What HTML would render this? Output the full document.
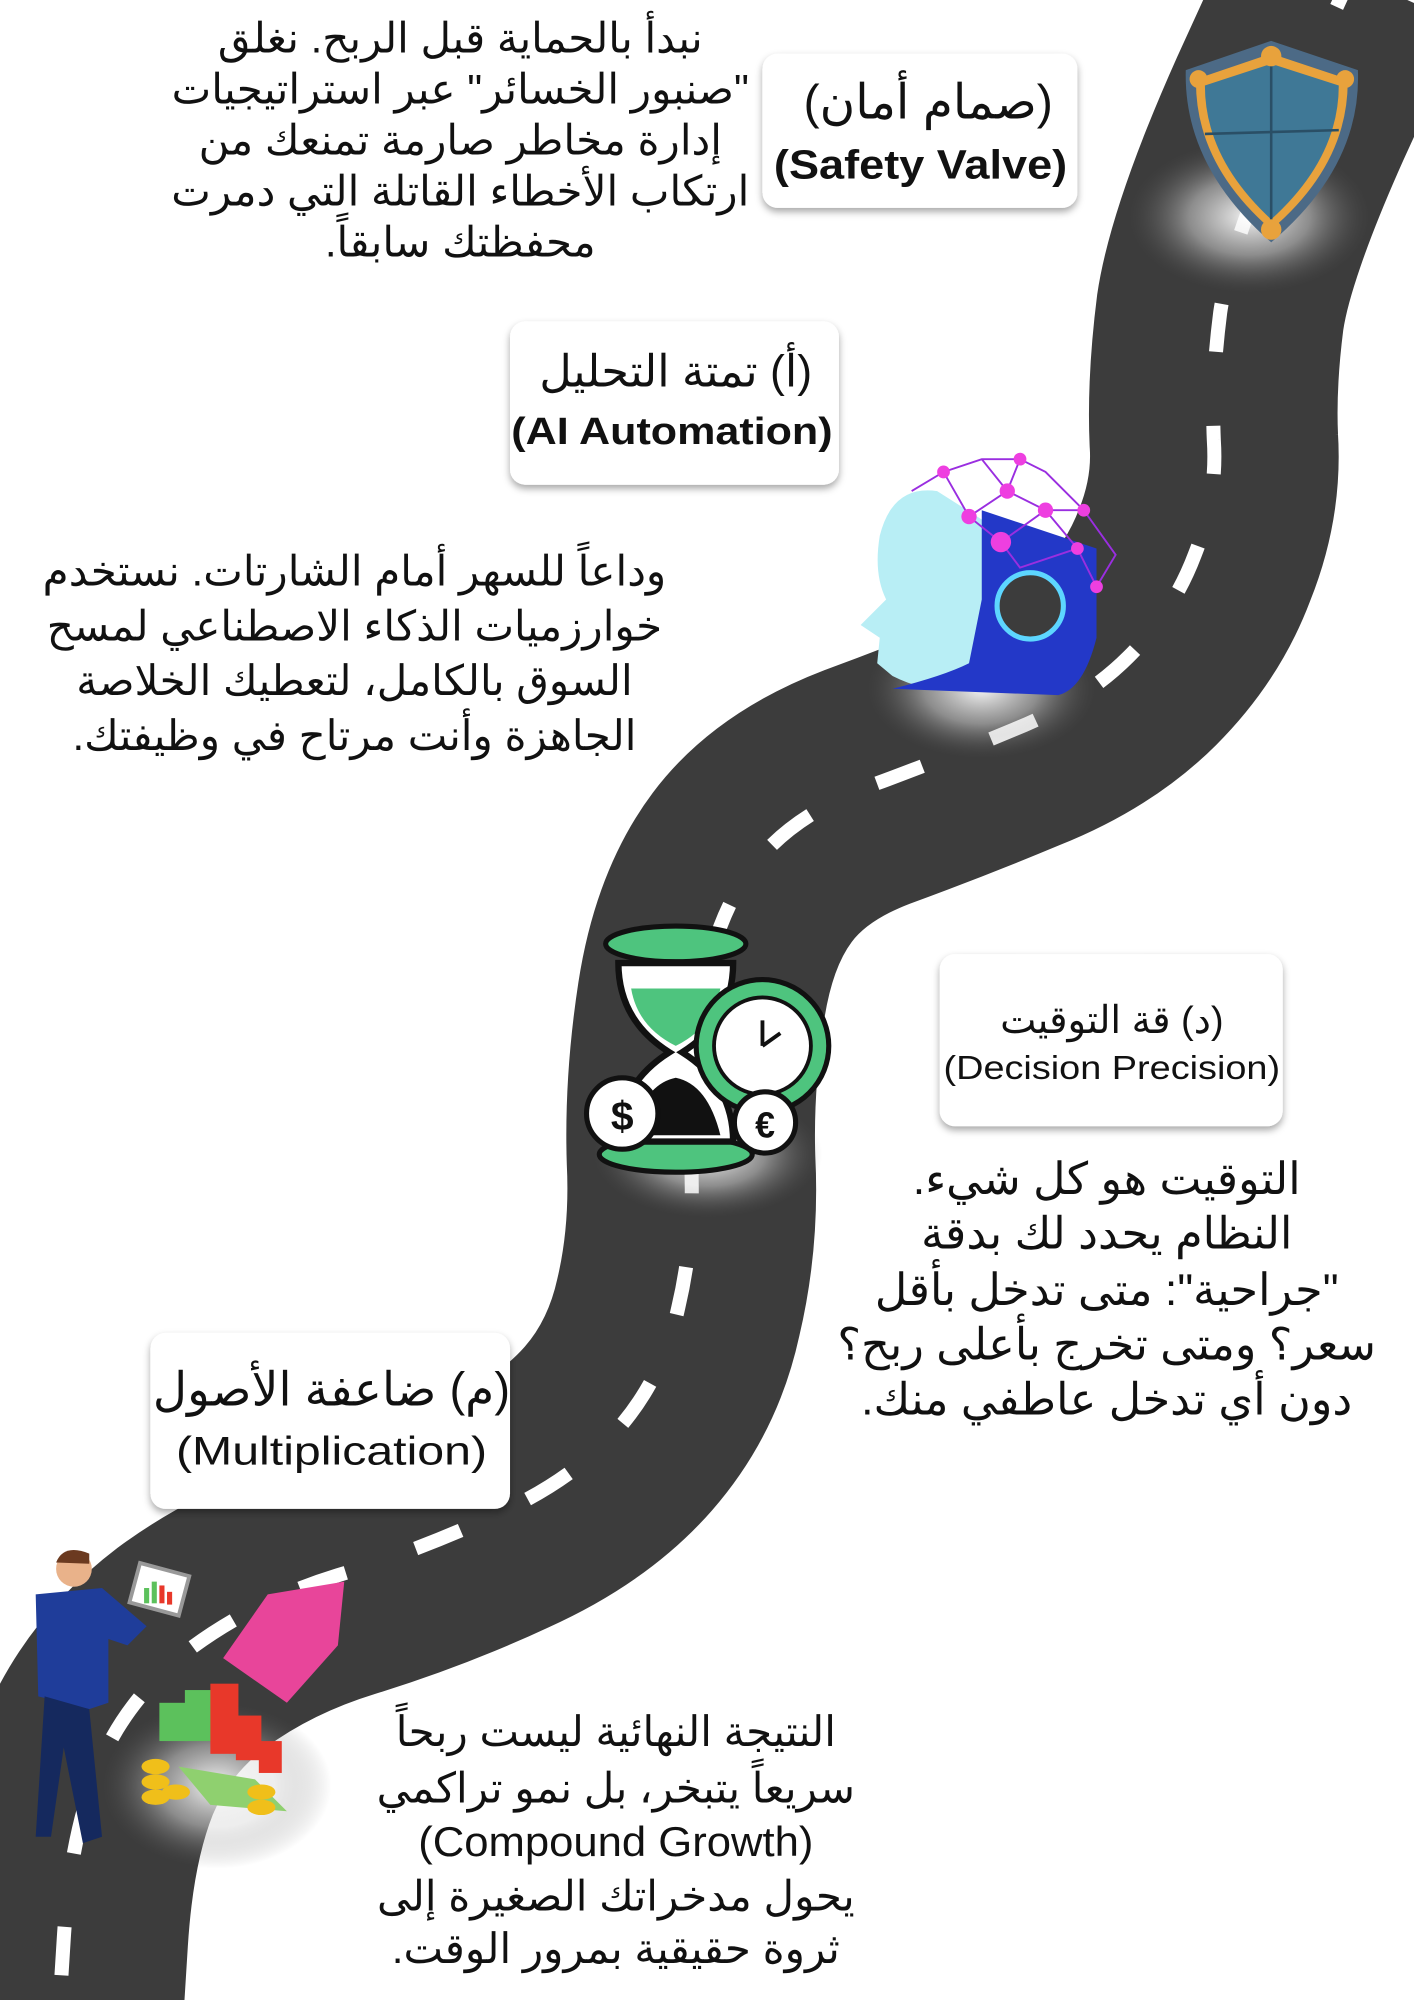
<!DOCTYPE html>
<html><head><meta charset="utf-8"><style>
html,body{margin:0;padding:0;background:#fff;}
svg{display:block;}
text{font-family:"Liberation Sans","Noto Sans CJK SC",sans-serif;fill:#111;}
</style></head><body>
<svg width="1414" height="2000" viewBox="0 0 1109 1568" preserveAspectRatio="none" xmlns="http://www.w3.org/2000/svg">
<defs>
<radialGradient id="glow"><stop offset="0" stop-color="#fff" stop-opacity="0.95"/><stop offset="0.5" stop-color="#ddd" stop-opacity="0.5"/><stop offset="1" stop-color="#555" stop-opacity="0"/></radialGradient>
<filter id="sh" x="-10%" y="-10%" width="120%" height="130%"><feDropShadow dx="0" dy="3" stdDeviation="3" flood-color="#000" flood-opacity="0.35"/></filter>
</defs>
<rect width="1109" height="1568" fill="#fff"/>
<path d="M 1060 -20 L 1012 85 Q 965 190 957 245 Q 950 300 952 345 Q 955 390 937 435 Q 920 480 885 515 Q 850 550 795 572 Q 740 595 680 617 Q 620 640 590 680 Q 560 720 550 785 Q 540 850 542 910 Q 545 970 532 1025 Q 520 1080 485 1120 Q 450 1160 390 1187 Q 330 1215 265 1235 Q 200 1255 150 1292 Q 100 1330 77 1385 Q 55 1440 50 1520 L 45 1600" fill="none" stroke="#3c3c3c" stroke-width="195" stroke-linejoin="round"/>
<path d="M 1060 -20 L 1012 85 Q 965 190 957 245 Q 950 300 952 345 Q 955 390 937 435 Q 920 480 885 515 Q 850 550 795 572 Q 740 595 680 617 Q 620 640 590 680 Q 560 720 550 785 Q 540 850 542 910 Q 545 970 532 1025 Q 520 1080 485 1120 Q 450 1160 390 1187 Q 330 1215 265 1235 Q 200 1255 150 1292 Q 100 1330 77 1385 Q 55 1440 50 1520 L 45 1600" fill="none" stroke="#fff" stroke-width="11" stroke-dasharray="38 58" stroke-dashoffset="10"/>

<ellipse cx="980" cy="170" rx="95" ry="60" fill="url(#glow)"/>
<ellipse cx="770" cy="540" rx="90" ry="55" fill="url(#glow)"/>
<ellipse cx="555" cy="905" rx="90" ry="50" fill="url(#glow)"/>
<ellipse cx="170" cy="1400" rx="90" ry="65" fill="url(#glow)"/>

<g>
<path d="M997 32 L1065 55 Q1068 130 997 190 Q928 130 930 55 Z" fill="#4c6a86"/>
<path d="M997 42 L1057 62 Q1058 128 997 180 Q937 128 938 62 Z" fill="#e8a23c"/>
<path d="M997 50 L1050 67 Q1050 124 997 172 Q945 124 945 67 Z" fill="#3f7896"/>
<line x1="997" y1="50" x2="997" y2="172" stroke="#2a4f66" stroke-width="2"/>
<line x1="945" y1="105" x2="1050" y2="102" stroke="#2a4f66" stroke-width="2"/>
<circle cx="997" cy="44" r="8" fill="#e8a23c"/><circle cx="940" cy="62" r="7" fill="#e8a23c"/><circle cx="1055" cy="62" r="7" fill="#e8a23c"/><circle cx="997" cy="180" r="8" fill="#e8a23c"/>
</g>

<g>
<path d="M735 385 Q700 380 690 420 Q685 450 695 470 L675 490 L690 500 L688 520 L700 530 Q730 545 760 540 L785 500 L790 420 Z" fill="#b8eef5"/>
<path d="M770 400 L860 430 L860 500 Q850 540 830 545 L700 540 Q740 530 760 520 L770 470 Z" fill="#2338c8"/>
<circle cx="808" cy="475" r="26" fill="#3c3c3c" stroke="#5dd6ff" stroke-width="4"/>
<g stroke="#9a2ee0" stroke-width="1.5" fill="none">
<path d="M715 385 L740 370 L770 360 L800 360 L820 370 L850 400 L875 435 L860 460 M740 370 L760 405 L785 425 L820 400 L850 400 M770 360 L790 385 L760 405 M800 360 L790 385 L820 400 L845 430 L860 460 M785 425 L800 445 L845 430"/>
</g>
<g fill="#ee3fe0"><circle cx="740" cy="370" r="5"/><circle cx="800" cy="360" r="5"/><circle cx="790" cy="385" r="6"/><circle cx="760" cy="405" r="6"/><circle cx="820" cy="400" r="6"/><circle cx="785" cy="425" r="8"/><circle cx="845" cy="430" r="5"/><circle cx="860" cy="460" r="5"/><circle cx="850" cy="400" r="5"/></g>
</g>

<g>
<ellipse cx="530" cy="740" rx="55" ry="14" fill="#4ec47e" stroke="#111" stroke-width="4"/>
<ellipse cx="530" cy="905" rx="60" ry="14" fill="#4ec47e" stroke="#111" stroke-width="4"/>
<path d="M485 755 Q485 800 525 825 Q485 850 485 895 L575 895 Q575 850 535 825 Q575 800 575 755 Z" fill="#fff" stroke="#111" stroke-width="5"/>
<path d="M495 775 L565 775 Q560 805 530 820 Q500 805 495 775 Z" fill="#4ec47e"/>
<path d="M495 890 Q505 850 530 845 Q555 850 565 890 Z" fill="#111"/>
<circle cx="598" cy="820" r="52" fill="#4ec47e" stroke="#111" stroke-width="4"/>
<circle cx="598" cy="820" r="38" fill="#fff" stroke="#111" stroke-width="3"/>
<path d="M598 820 L598 800 M598 820 L612 810" stroke="#111" stroke-width="3"/>
<circle cx="488" cy="873" r="28" fill="#fff" stroke="#111" stroke-width="4"/><text x="488" y="886" font-size="32" text-anchor="middle" font-weight="bold">$</text>
<circle cx="600" cy="880" r="24" fill="#fff" stroke="#111" stroke-width="4"/><text x="600" y="892" font-size="28" text-anchor="middle" font-weight="bold">€</text>
</g>

<g>
<path d="M175 1300 L210 1250 L270 1240 L265 1290 L225 1335 Z" fill="#e8459a"/>
<rect x="125" y="1335" width="22" height="30" fill="#5cc15c"/><rect x="145" y="1325" width="22" height="40" fill="#5cc15c"/>
<rect x="165" y="1320" width="22" height="55" fill="#e8382a"/><rect x="185" y="1345" width="20" height="35" fill="#e8382a"/><rect x="203" y="1365" width="18" height="25" fill="#e8382a"/>
<path d="M140 1385 L200 1395 L225 1420 L165 1415 Z" fill="#8fd06f"/>
<g fill="#f0bf1a"><ellipse cx="122" cy="1385" rx="11" ry="6"/><ellipse cx="122" cy="1397" rx="11" ry="6"/><ellipse cx="122" cy="1409" rx="11" ry="6"/><ellipse cx="138" cy="1405" rx="11" ry="6"/><ellipse cx="205" cy="1405" rx="11" ry="6"/><ellipse cx="205" cy="1417" rx="11" ry="6"/></g>
<circle cx="58" cy="1230" r="14" fill="#e9b28a"/><path d="M44 1225 Q50 1210 70 1218 L70 1226 Z" fill="#6b3a20"/>
<path d="M28 1250 L80 1245 L115 1275 L100 1290 L85 1285 L85 1335 L70 1340 L30 1330 Z" fill="#1f3d9a"/>
<path d="M35 1330 L70 1340 L80 1440 L65 1445 L50 1370 L40 1440 L28 1440 Z" fill="#15295e"/>
<rect x="105" y="1230" width="40" height="32" fill="#fff" stroke="#999" stroke-width="3" transform="rotate(15 125 1246)"/>
<rect x="113" y="1245" width="4" height="12" fill="#5cc15c"/><rect x="119" y="1240" width="4" height="17" fill="#5cc15c"/><rect x="125" y="1243" width="4" height="14" fill="#e8382a"/><rect x="131" y="1248" width="4" height="10" fill="#e8382a"/>
</g>

<g filter="url(#sh)" fill="#fff">
<rect x="598" y="42" width="247" height="121" rx="12"/>
<rect x="400" y="252" width="258" height="128" rx="12"/>
<rect x="737" y="748" width="269" height="135" rx="12"/>
<rect x="118" y="1045" width="282" height="138" rx="12"/>
</g>
<text x="728" y="93" font-size="38" text-anchor="middle" direction="rtl">(صمام أمان)</text>
<text x="722" y="140" font-size="32" text-anchor="middle" font-weight="bold" textLength="230" lengthAdjust="spacingAndGlyphs">(Safety Valve)</text>
<text x="530" y="303" font-size="35" text-anchor="middle" direction="rtl">(أ) تمتة التحليل</text>
<text x="527" y="348" font-size="30" text-anchor="middle" font-weight="bold" textLength="252" lengthAdjust="spacingAndGlyphs">(AI Automation)</text>
<text x="872" y="810" font-size="30" text-anchor="middle" direction="rtl">(د) قة التوقيت</text>
<text x="872" y="846" font-size="26" text-anchor="middle" textLength="264" lengthAdjust="spacingAndGlyphs">(Decision Precision)</text>
<text x="260" y="1102" font-size="37" text-anchor="middle" direction="rtl">(م) ضاعفة الأصول</text>
<text x="260" y="1148" font-size="31" text-anchor="middle" textLength="244" lengthAdjust="spacingAndGlyphs">(Multiplication)</text>

<g font-size="33" text-anchor="middle">
<text x="361" y="41" direction="rtl">نبدأ بالحماية قبل الربح. نغلق</text>
<text x="361" y="81" direction="rtl">"صنبور الخسائر" عبر استراتيجيات</text>
<text x="361" y="121" direction="rtl">إدارة مخاطر صارمة تمنعك من</text>
<text x="361" y="161" direction="rtl">ارتكاب الأخطاء القاتلة التي دمرت</text>
<text x="361" y="201" direction="rtl">محفظتك سابقاً.</text>
</g>
<g font-size="33" text-anchor="middle">
<text x="278" y="459" direction="rtl">وداعاً للسهر أمام الشارتات. نستخدم</text>
<text x="278" y="502" direction="rtl">خوارزميات الذكاء الاصطناعي لمسح</text>
<text x="278" y="545" direction="rtl">السوق بالكامل، لتعطيك الخلاصة</text>
<text x="278" y="588" direction="rtl">الجاهزة وأنت مرتاح في وظيفتك.</text>
</g>
<g font-size="35" text-anchor="middle">
<text x="868" y="936" direction="rtl">التوقيت هو كل شيء.</text>
<text x="868" y="979" direction="rtl">النظام يحدد لك بدقة</text>
<text x="868" y="1023" direction="rtl">"جراحية": متى تدخل بأقل</text>
<text x="868" y="1066" direction="rtl">سعر؟ ومتى تخرج بأعلى ربح؟</text>
<text x="868" y="1109" direction="rtl">دون أي تدخل عاطفي منك.</text>
</g>
<g font-size="33" text-anchor="middle">
<text x="483" y="1369" direction="rtl">النتيجة النهائية ليست ربحاً</text>
<text x="483" y="1413" direction="rtl">سريعاً يتبخر، بل نمو تراكمي</text>
<text x="483" y="1455" textLength="310" lengthAdjust="spacingAndGlyphs">(Compound Growth)</text>
<text x="483" y="1498" direction="rtl">يحول مدخراتك الصغيرة إلى</text>
<text x="483" y="1539" direction="rtl">ثروة حقيقية بمرور الوقت.</text>
</g>
</svg>
</body></html>
